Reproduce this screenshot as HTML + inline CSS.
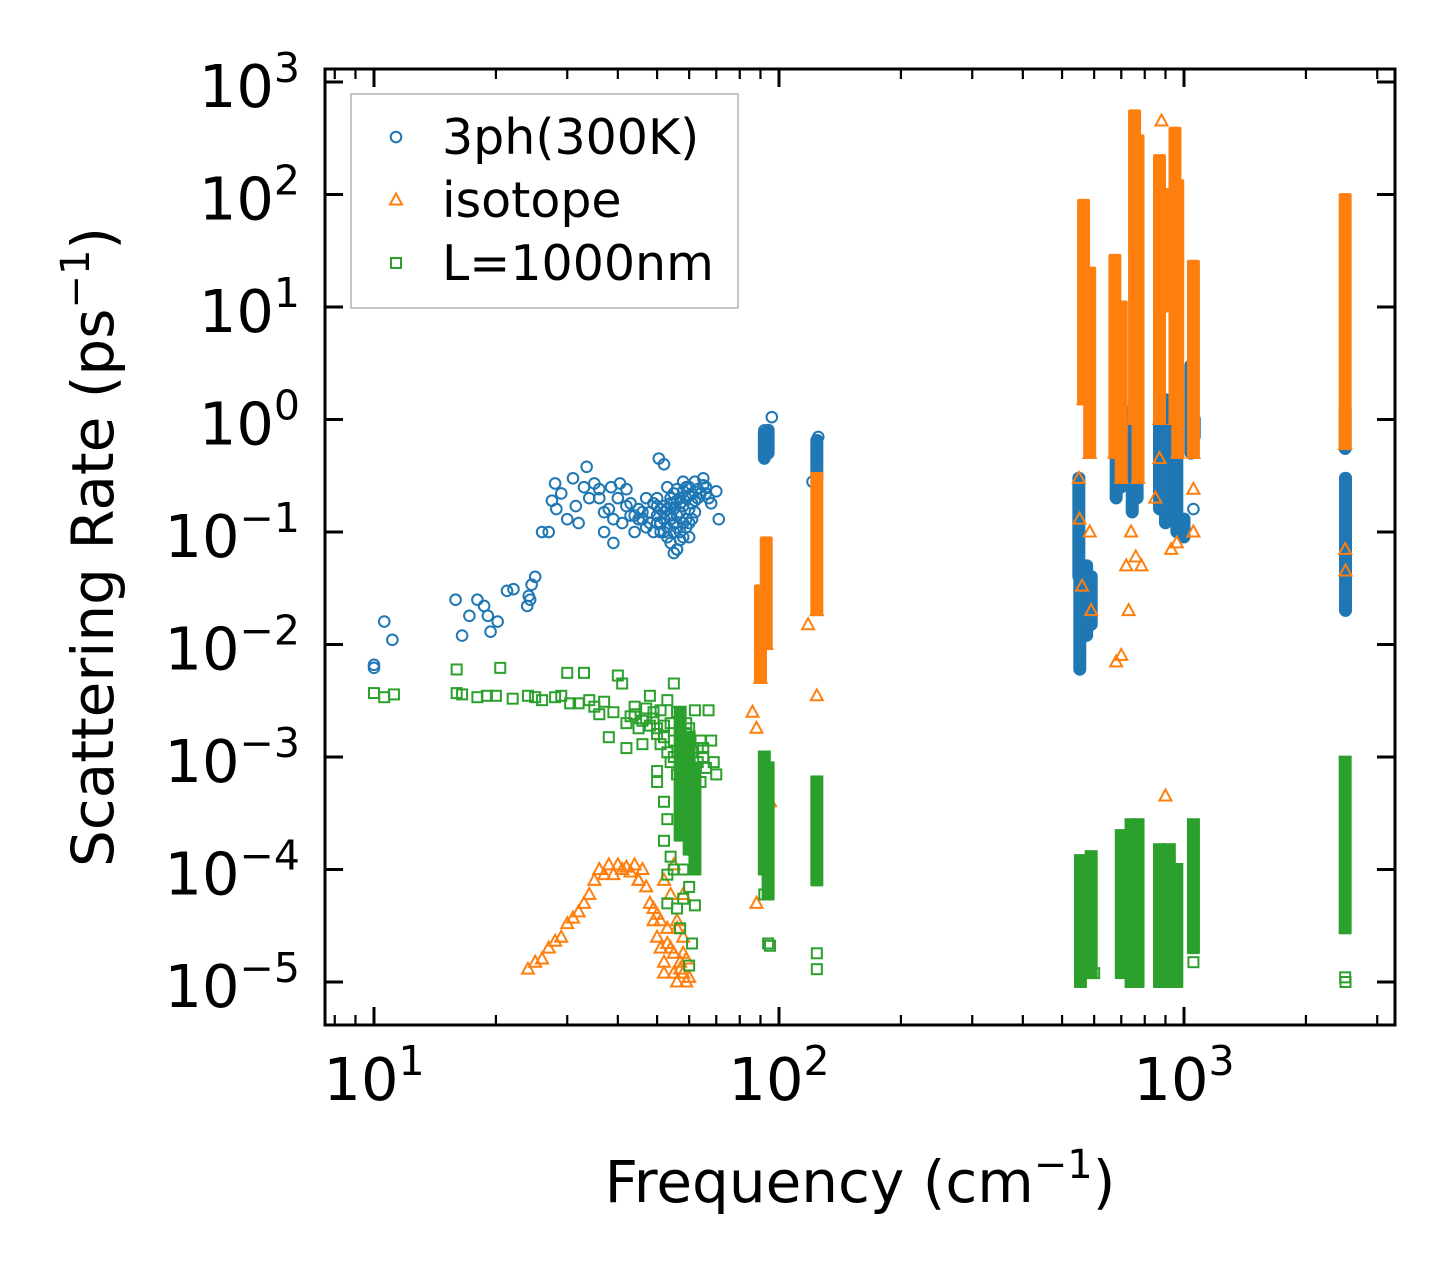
<!DOCTYPE html>
<html><head><meta charset="utf-8">
<style>
html,body{margin:0;padding:0;background:#fff;}
svg{display:block;font-family:"DejaVu Sans","Liberation Sans",sans-serif;}
</style></head>
<body>
<svg id="chart" width="1455" height="1275" viewBox="0 0 1455 1275">
<rect x="0" y="0" width="1455" height="1275" fill="#fff"/>
<g id="marks"></g>
<g id="axes"></g>
</svg>
<script>
// ---------- data ----------
const xTicks=[10,100,1000];
const yTicks=[1e-5,1e-4,1e-3,1e-2,1e-1,1,10,100,1000];
const yExp=["−5","−4","−3","−2","−1","0","1","2","3"];
const xExp=["1","2","3"];
const seriesNames=["3ph(300K)","isotope","L=1000nm"];

const blueFreq=[10,10,10.6,11.1,15.9,16.5,17.2,18,18.7,19.1,19.4,20.2,21.3,22.1,23.9,24.1,24.3,24.5,25,26,27,27.5,28,28.2,29,30,31,31.5,32,33,33.5,34,35,36,37,38,38.5,39,40,40.5,41,42,43,44,45,46,47,48,49,50,50.5,51,52,53,54,55,56,57,58,59,60,62,63,65,66,68,71,70,48,50,52,53,54,55,56,57,58,55,56,60,61,62,64,66,55,57,59,51,49,46,44,52,96,92,125,121,1055,960,
 50,51,52,53,54,55,56,57,58,59,60,61,53,55,57,59,61,54,56,58,60,62,50,52,54,56,58,60,63,65,67,36,37,39,42,43,45,47];
const blueRate=[0.0066,0.0062,0.016,0.011,0.025,0.012,0.018,0.025,0.022,0.018,0.013,0.016,0.03,0.031,0.022,0.027,0.025,0.034,0.04,0.1,0.1,0.19,0.27,0.16,0.22,0.13,0.3,0.17,0.12,0.25,0.38,0.2,0.27,0.24,0.1,0.16,0.25,0.08,0.2,0.27,0.12,0.24,0.18,0.1,0.13,0.15,0.2,0.12,0.18,0.14,0.45,0.1,0.4,0.16,0.08,0.12,0.07,0.2,0.28,0.25,0.09,0.15,0.2,0.3,0.22,0.18,0.13,0.23,0.15,0.2,0.1,0.25,0.18,0.22,0.14,0.1,0.09,0.065,0.07,0.25,0.18,0.28,0.22,0.25,0.16,0.18,0.13,0.12,0.1,0.13,0.14,0.17,1.05,0.8,0.7,0.28,0.16,0.12,
 0.12,0.16,0.13,0.11,0.14,0.18,0.11,0.15,0.12,0.2,0.16,0.13,0.09,0.1,0.085,0.11,0.22,0.2,0.24,0.17,0.21,0.19,0.17,0.15,0.13,0.19,0.23,0.12,0.24,0.26,0.2,0.2,0.15,0.13,0.17,0.14,0.16,0.11];
const blueColFreq=[92,94,124,550,553,575,590,680,700,745,766,870,900,960,1000,1040,1060,2500,2505];
const blueColLo=[0.45,0.5,0.3,0.04,0.006,0.012,0.015,0.2,0.25,0.15,0.2,0.16,0.12,0.1,0.09,0.5,0.7,0.55,0.02];
const blueColHi=[0.75,0.8,0.65,0.3,0.05,0.05,0.04,1.1,0.8,1.2,2.4,1.9,1.5,2,0.13,3,1.0,1.2,0.3];

const orangeFreq=[24,25,26,27,28,29,30,31,32,33,34,35,36,37,38,40,42,44,46,47,48,49,50,51,52,53,54,55,56,57,58,59,60,55,58,88,86,88,95,124,118,550,552,560,590,585,680,700,730,720,740,760,785,850,870,880,930,960,1055,2500,2505,900,1055,45,50,52,54,56,58,
 39,41,43,45,49,51,53,55,57,59,52,56,58];
const orangeRate=[1.3e-5,1.5e-5,1.6e-5,2e-5,2.3e-5,2.5e-5,3.3e-5,3.7e-5,4.2e-5,5e-5,6e-5,8e-5,1e-4,9e-5,1.1e-4,1.1e-4,1.05e-4,1.1e-4,1e-4,7e-5,5e-5,3.5e-5,2.5e-5,2e-5,1.5e-5,3e-5,2e-5,1.2e-5,1e-5,1.5e-5,2.5e-5,1e-5,1.1e-5,1.1e-4,6e-5,5e-5,2.5e-3,1.8e-3,4e-4,3.5e-3,0.015,0.3,0.13,0.033,0.02,0.1,7e-3,8e-3,0.02,0.05,0.1,0.06,0.05,0.2,0.45,450,0.07,0.08,0.24,0.07,0.045,4.5e-4,0.1,8e-5,4e-5,1.2e-5,6e-5,3e-5,1.8e-5,
 9e-5,1e-4,9.5e-5,8e-5,4.5e-5,3.5e-5,2.2e-5,1.8e-5,1.3e-5,1.6e-5,8e-5,3.5e-5,1.2e-5];
const orangeColFreq=[90,93,124,565,585,675,700,755,770,870,900,950,965,1055,2500];
const orangeColLo=[5e-3,0.01,0.02,1.5,0.5,0.5,0.3,1,0.3,1,10,1,0.5,0.5,0.6];
const orangeColHi=[0.03,0.08,0.3,80,20,26,10,500,300,200,100,350,120,23,90];

const greenFreq=[10,10.6,11.2,16,16,16.5,18,19,20.5,20,22,24,25,26,28,29,30,30.5,32,33,34,35,36,37,38,39,40,41,42,42,43,44,45,46,47,48,49,50,50,51,52,53,54,55,55,56,57,58,59,60,62,63,64,65,67,68,69,70,66,64,50,52,53,52,54,53,53,56,60,60,61,55,58,62,57,58,94,95,124,124,92,555,600,745,2500,2505,1055,
 44,46,48,50,51,53,54,56,58,59,61,63,65,47,49,52,55];
const greenRate=[3.7e-3,3.4e-3,3.6e-3,6e-3,3.7e-3,3.6e-3,3.4e-3,3.5e-3,6.2e-3,3.5e-3,3.3e-3,3.5e-3,3.4e-3,3.2e-3,3.4e-3,3.5e-3,5.6e-3,3e-3,3e-3,5.6e-3,3.2e-3,2.8e-3,2.4e-3,3.1e-3,1.5e-3,2.5e-3,5.3e-3,4.5e-3,2e-3,1.2e-3,2.3e-3,2.8e-3,1.8e-3,1.3e-3,2.2e-3,3.5e-3,2.5e-3,1.8e-3,0.75e-3,2.6e-3,1.5e-3,3.2e-3,2e-3,4.5e-3,1e-3,2.5e-3,1.4e-3,1.2e-3,2e-3,1.8e-3,2.6e-3,1.2e-3,1.4e-3,1e-3,2.6e-3,1.4e-3,0.9e-3,0.7e-3,0.8e-3,0.6e-3,6e-4,4e-4,2.8e-4,1.8e-4,1.3e-4,9e-5,5e-5,4.5e-5,7e-5,1.4e-5,2.2e-5,1e-4,1e-4,4.8e-5,3e-5,5.5e-5,2.2e-5,2.1e-5,1.3e-5,1.8e-5,6e-5,1e-5,1.2e-5,1e-5,1.1e-5,1e-5,1.5e-5,
 2.4e-3,2.1e-3,1.9e-3,1.6e-3,1.3e-3,1.1e-3,9e-4,7e-4,6e-4,1.6e-3,1.1e-3,9e-4,1.2e-3,2.7e-3,2.2e-3,1.9e-3,1.4e-3];
const greenColFreq=[57,60,62,92,94,124,555,590,700,740,770,870,920,960,1055,2500];
const greenColLo=[2e-4,1.5e-4,1e-4,1e-4,6e-5,8e-5,1e-5,1.2e-5,1.2e-5,1e-5,1e-5,1e-5,1e-5,1e-5,2e-5,3e-5];
const greenColHi=[2.5e-3,1.5e-3,8e-4,1e-3,8e-4,6e-4,1.2e-4,1.3e-4,2e-4,2.5e-4,2.5e-4,1.5e-4,1.5e-4,1e-4,2.5e-4,9e-4];

// ---------- axes ----------
const L=325,R=1395,T=69,B=1025;
const X=f=>374+405*Math.log10(f/10);
const Y=r=>982-112.5*(Math.log10(r)+5);
const NS="http://www.w3.org/2000/svg";
const marks=document.getElementById('marks');
const axes=document.getElementById('axes');
const C=["#1f77b4","#ff7f0e","#2ca02c"];
function el(tag,attrs,parent){const e=document.createElementNS(NS,tag);for(const k in attrs)e.setAttribute(k,attrs[k]);parent.appendChild(e);return e;}

function marker(kind,x,y,parent,color){
  let e;
  if(kind===0){e=el('circle',{cx:x,cy:y,r:5.3,fill:'none',stroke:color,'stroke-width':2},parent);}
  else if(kind===1){e=el('polygon',{points:`${x},${y-6.5} ${x-6},${y+4.5} ${x+6},${y+4.5}`,fill:'none',stroke:color,'stroke-width':2},parent);}
  else {e=el('rect',{x:x-5,y:y-5,width:10,height:10,fill:'none',stroke:color,'stroke-width':2},parent);}
  return e;
}
const sets=[
 [blueFreq,blueRate,blueColFreq,blueColLo,blueColHi],
 [orangeFreq,orangeRate,orangeColFreq,orangeColLo,orangeColHi],
 [greenFreq,greenRate,greenColFreq,greenColLo,greenColHi]];
const clip=el('clipPath',{id:'pc'},marks);el('rect',{x:L,y:T,width:R-L,height:B-T},clip);
sets.forEach((s,k)=>{
  const g=el('g',{'clip-path':'url(#pc)'},marks);
  
  
  const [fx,fy,cf,clo,chi]=s;
  for(let i=0;i<cf.length;i++){
    const x=X(cf[i]),y1=Y(chi[i]),y2=Y(clo[i]);
    const r=el('rect',{x:x-6.5,y:y1-6.5,width:13,height:y2-y1+12,rx:k===0?6:(k===1?2:0),fill:C[k]},g);
    
    
    marker(k,x,y2,g,C[k]);
  }
  for(let i=0;i<fx.length;i++){
    const m=marker(k,X(fx[i]),Y(fy[i]),g,C[k]);
    
    
  }
});

// frame
const fr=el('rect',{x:L,y:T,width:R-L,height:B-T,fill:'none',stroke:'#000','stroke-width':3},axes);


// x ticks
for(let d=1;d<=1000;d*=10){for(let m=1;m<10;m++){const f=d*m;const x=X(f);if(x<L||x>R)continue;
  const len=m===1?18:10,w=m===1?3:2.2;
  el('line',{x1:x,y1:B,x2:x,y2:B-len,stroke:'#000','stroke-width':w},axes);
  el('line',{x1:x,y1:T,x2:x,y2:T+len,stroke:'#000','stroke-width':w},axes);}}
xTicks.forEach((t,i)=>{const tx=el('text',{x:X(t),y:1100,'font-size':59,'text-anchor':'middle'},axes);
  
  
  tx.innerHTML=`10<tspan dy="-25" font-size="41">${xExp[i]}</tspan>`;});
yTicks.forEach((t,i)=>{const y=Y(t);
  el('line',{x1:L,y1:y,x2:L+18,y2:y,stroke:'#000','stroke-width':3},axes);
  el('line',{x1:R,y1:y,x2:R-18,y2:y,stroke:'#000','stroke-width':3},axes);
  const tx=el('text',{x:300,y:y+25,'font-size':59,'text-anchor':'end'},axes);
  
  
  tx.innerHTML=`10<tspan dy="-25" font-size="41">${yExp[i]}</tspan>`;});
// axis titles
const xt=el('text',{x:860,y:1202,'font-size':58,'text-anchor':'middle'},axes);


xt.innerHTML='Frequency (cm<tspan dy="-24" font-size="40">−1</tspan><tspan dy="24">)</tspan>';
const yt=el('text',{x:0,y:0,'font-size':58,'text-anchor':'middle',transform:'translate(113,547) rotate(-90)'},axes);


yt.innerHTML='Scattering Rate (ps<tspan dy="-24" font-size="40">−1</tspan><tspan dy="24">)</tspan>';
// legend
const lg=el('g',{},axes);


el('rect',{x:351,y:94,width:387,height:214,fill:'#fff',stroke:'#aaa','stroke-width':1.5,opacity:0.9},lg);
seriesNames.forEach((n,k)=>{const y=137+k*63;
  const en=el('g',{},lg);
  
  
  marker(k,396,y,en,C[k]);
  const t=el('text',{x:442,y:y+17,'font-size':49},en);t.textContent=n;});
</script>
</body></html>
